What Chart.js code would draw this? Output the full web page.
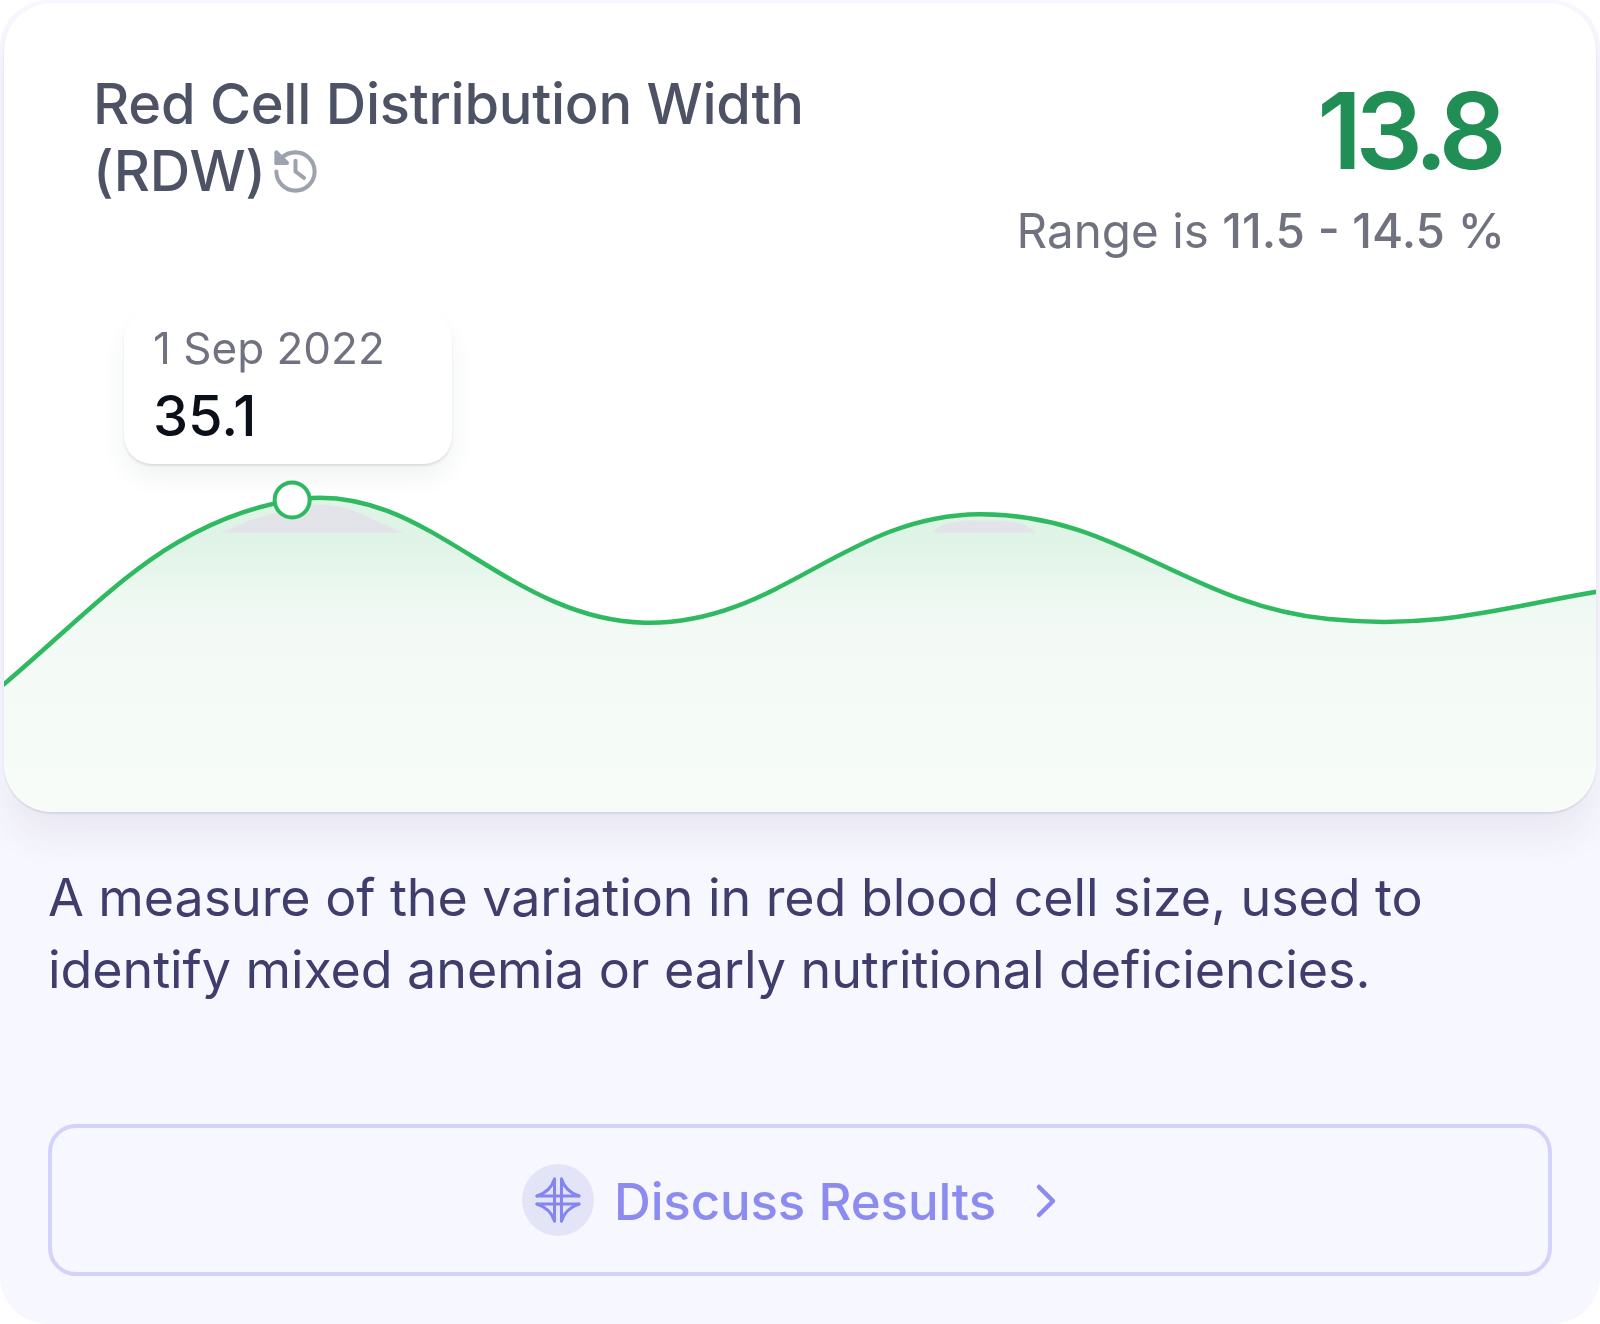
<!DOCTYPE html>
<html>
<head>
<meta charset="utf-8">
<script src="https://cdn.jsdelivr.net/npm/chart.js@4/dist/chart.umd.min.js"></script>
<style>
  html, body { margin: 0; padding: 0; background: #fff; }
  body { width: 1600px; height: 1324px; overflow: hidden; font-family: Inter, sans-serif; }
  .outer { position: absolute; left: 0; top: 0; width: 1600px; height: 1324px; background: #f7f7ff; border-radius: 48px; overflow: hidden; }
  .card { position: absolute; left: 4px; top: 3px; width: 1592px; height: 809px; background: #fff; border-radius: 48px; box-shadow: 0 2px 2px rgba(60,60,110,.12), 0 26px 36px rgba(70,50,90,.07); }
  .plot { position: absolute; left: 0; top: 0; width: 1592px; height: 809px; border-radius: 48px; overflow: hidden; }
  .txt { position: absolute; white-space: nowrap; }
  .title { left: 89px; top: 68px; font-size: 56px; line-height: 67px; font-weight: 500; color: #4d5364; letter-spacing: -0.26px; }
  .value { right: 96px; top: 63px; font-size: 106px; line-height: 130px; font-weight: 600; color: #218f55; letter-spacing: -6.5px; }
  .range { right: 91px; top: 200px; font-size: 47.6px; line-height: 56px; color: #71727f; }
  .range b { font-weight: 500; }
  .tip { position: absolute; left: 120px; top: 308px; width: 328px; height: 153px; background: #fff; border-radius: 28px; box-shadow: 0 2px 2px rgba(60,60,110,.12), 0 14px 22px rgba(60,90,80,.07); }
  .tip .date { left: 29px; top: 9px; font-size: 44px; line-height: 56px; color: #71727f; }
  .tip .num { left: 29px; top: 71px; font-size: 56px; line-height: 68px; font-weight: 500; color: #0b0f19; }
  .desc { left: 48px; top: 862px; font-size: 52px; line-height: 71.5px; color: #3f3d6b; letter-spacing: -0.08px; }
  .btn { position: absolute; left: 48px; top: 1124px; width: 1496px; height: 144px; border: 4px solid #d2d2fa; border-radius: 28px; }
  .badge { position: absolute; left: 522px; top: 1164px; width: 72px; height: 72px; border-radius: 50%; background: #e4e4f9; }
  .btn-text { left: 614px; top: 1170px; font-size: 51px; line-height: 64px; font-weight: 500; color: #8c8cf0; letter-spacing: -0.15px; }
  svg { position: absolute; }
</style>
</head>
<body>
<div class="outer">
  <div class="card">
    <div class="plot"><canvas id="chart" width="1592" height="809"></canvas></div>
    <div class="txt title">Red Cell Distribution Width<br>(RDW)</div>
    <svg style="left:266px;top:143px" width="51" height="51" viewBox="0 0 24 24" fill="none" stroke="#9ca3af" stroke-width="1.9" stroke-linecap="round" stroke-linejoin="round"><path d="M3 12a9 9 0 1 0 9-9 9.75 9.75 0 0 0-6.74 2.74L3 8"/><path d="M3 3v5h5z" fill="#9ca3af"/><path d="M12 7v5l4 3"/></svg>
    <div class="txt value">13.8</div>
    <div class="txt range">Range is <b>11.5 - 14.5 %</b></div>
    <div class="tip">
      <div class="txt date">1 Sep 2022</div>
      <div class="txt num">35.1</div>
    </div>
  </div>
  <div class="txt desc">A measure of the variation in red blood cell size, used to<br>identify mixed anemia or early nutritional deficiencies.</div>
  <div class="btn"></div>
  <div class="badge"></div>
  <svg style="left:534px;top:1176px" width="48" height="48" viewBox="0 0 48 48" fill="none" stroke="#8585f0" stroke-width="3" stroke-linejoin="round" stroke-linecap="round">
    <path d="M20.5 3V45M27.5 3V45M3 20H45M3 28H45"/>
    <path d="M20.5 3C18 11 12 17 3 20"/><path d="M27.5 3C30 11 36 17 45 20"/><path d="M20.5 45C18 37 12 31 3 28"/><path d="M27.5 45C30 37 36 31 45 28"/>
  </svg>
  <div class="txt btn-text">Discuss Results</div>
  <svg style="left:1030px;top:1182px" width="32" height="38" viewBox="0 0 32 38" fill="none" stroke="#8c8cf0" stroke-width="4.5" stroke-linecap="round" stroke-linejoin="round"><path d="M9 5 L23 19 L9 33"/></svg>
</div>

<script>
// readings, x in % of the card width; the line runs off both edges of the card
const timeline = [-5, 18.1, 40.25, 61.3, 83.2, 104];
const rdwValues = [7.6, 35.1, 21.3, 33.5, 21.7, 25.8];
const selectedIndex = 1;

// grey patches under the two peaks
const bandBase = 31.4;
const bandOneX = [13.6, 16, 20.5, 25.1];
const bandOneY = [31.4, 33.1, 34.5, 31.4];
const bandTwoX = [58.2, 59.3, 61.5, 63.8, 64.9];
const bandTwoY = [31.4, 32.5, 32.8, 32.5, 31.4];

const pairs = (xs, ys) => xs.map((x, i) => ({ x, y: ys[i] }));

function areaFill(context) {
  const { ctx, chartArea } = context.chart;
  if (!chartArea) return "transparent";
  const g = ctx.createLinearGradient(0, chartArea.top, 0, chartArea.bottom);
  g.addColorStop(0, "#dff3e6");
  g.addColorStop(0.665, "#dff3e6");
  g.addColorStop(0.73, "#edf8f1");
  g.addColorStop(0.78, "#f3faf5");
  g.addColorStop(1, "#f7fcf9");
  return g;
}

const bandStyle = {
  pointRadius: 0,
  borderWidth: 0,
  tension: 0.35,
  fill: { target: { value: bandBase }, above: "#e3e3ea", below: "transparent" },
  order: 2,
};

new Chart(document.getElementById("chart"), {
  type: "line",
  data: {
    datasets: [
      {
        data: pairs(timeline, rdwValues),
        borderColor: "#2fba62",
        borderWidth: 4.5,
        tension: 0.4,
        pointRadius: 0,
        fill: "start",
        backgroundColor: areaFill,
        order: 3,
      },
      { ...bandStyle, data: pairs(bandOneX, bandOneY) },
      { ...bandStyle, data: pairs(bandTwoX, bandTwoY) },
      {
        data: [{ x: timeline[selectedIndex], y: rdwValues[selectedIndex] }],
        showLine: false,
        pointRadius: 17.5,
        pointBorderWidth: 4,
        pointBorderColor: "#2fba62",
        pointBackgroundColor: "#fff",
        order: 1,
      },
    ],
  },
  options: {
    responsive: false,
    animation: false,
    layout: { padding: 0, autoPadding: false },
    plugins: { legend: { display: false }, tooltip: { enabled: false } },
    scales: {
      x: { type: "linear", display: false, min: 0, max: 100 },
      y: { display: false, min: 0, max: 91 },
    },
  },
});
</script>
</body>
</html>
